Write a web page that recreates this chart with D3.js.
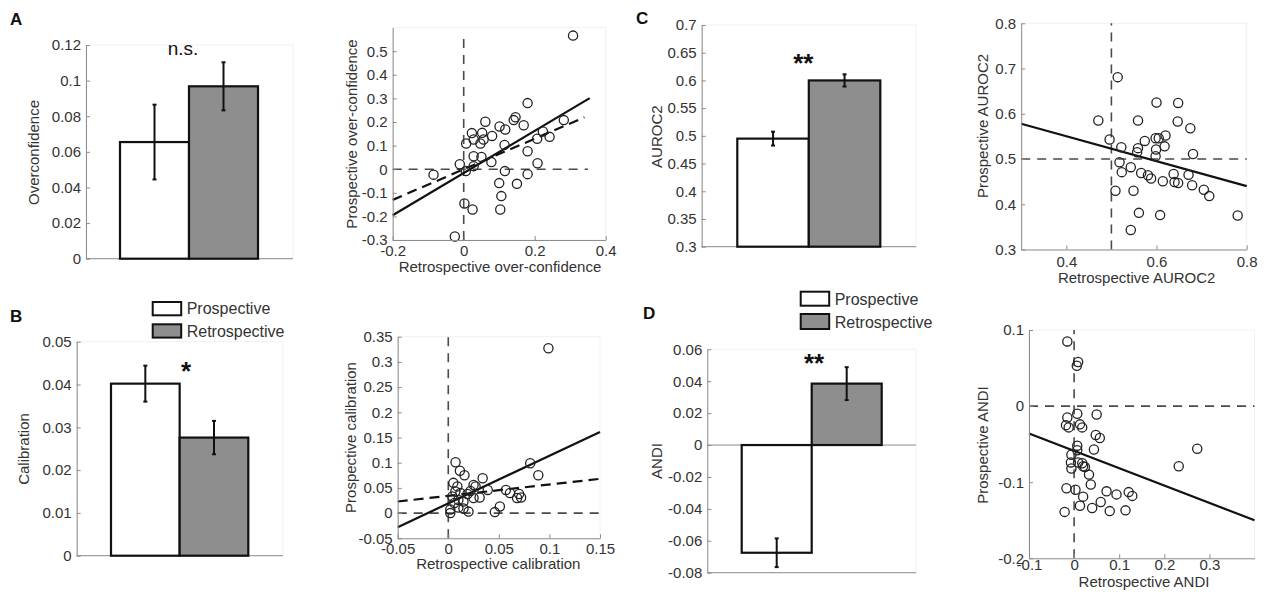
<!DOCTYPE html>
<html><head><meta charset="utf-8">
<script src="https://cdn.jsdelivr.net/npm/d3@7"></script>
<style>body{margin:0;background:#fff}</style>
</head><body><svg id="c" width="1265" height="597"></svg>
<script>
// ---------------- DATA ----------------
const barGroups = ["Prospective", "Retrospective"];

const overconfMean = [0.0655, 0.0968];
const overconfErr  = [0.021, 0.0135];
const overconfTicks = [0, 0.02, 0.04, 0.06, 0.08, 0.1, 0.12];

const calibMean = [0.0402, 0.0276];
const calibErr  = [0.0042, 0.0039];
const calibTicks = [0, 0.01, 0.02, 0.03, 0.04, 0.05];

const auroc2Mean = [0.495, 0.600];
const auroc2Err  = [0.0125, 0.011];
const auroc2Ticks = [0.3, 0.35, 0.4, 0.45, 0.5, 0.55, 0.6, 0.65, 0.7];

const andiMean = [-0.0675, 0.0385];
const andiErr  = [0.009, 0.0103];
const andiTicks = [-0.08, -0.06, -0.04, -0.02, 0, 0.02, 0.04, 0.06];

// scatter: [retrospective, prospective]
const overconfPoints = [[0.308,0.566],[0.180,0.280],[0.061,0.201],[0.146,0.220],[0.141,0.208],[0.169,0.186],[0.101,0.181],[0.117,0.168],[0.282,0.208],[0.023,0.153],[0.052,0.154],[0.080,0.141],[0.223,0.160],[0.242,0.137],[0.207,0.129],[0.007,0.109],[0.028,0.126],[0.047,0.109],[0.056,0.126],[0.115,0.103],[0.180,0.076],[0.028,0.055],[0.050,0.052],[0.078,0.030],[0.028,0.013],[-0.011,0.021],[0.006,-0.008],[-0.085,-0.023],[0.208,0.025],[0.116,-0.008],[0.180,-0.021],[0.150,-0.062],[0.100,-0.059],[0.106,-0.114],[0.002,-0.145],[0.025,-0.171],[0.103,-0.171],[-0.025,-0.285]];
const overconfFit = [[-0.2,-0.195],[0.355,0.301]];
const overconfFitDashed = [[-0.2,-0.13],[0.34,0.22]];
const overconfXTicks = [-0.2, 0, 0.2, 0.4];
const overconfYTicks = [-0.3, -0.2, -0.1, 0, 0.1, 0.2, 0.3, 0.4, 0.5];

const calibPoints = [[0.099,0.327],[0.0072,0.101],[0.0115,0.084],[0.016,0.075],[0.081,0.099],[0.089,0.075],[0.034,0.069],[0.005,0.060],[0.009,0.053],[0.025,0.056],[0.027,0.053],[0.039,0.046],[0.057,0.046],[0.061,0.040],[0.070,0.038],[0.072,0.031],[0.068,0.030],[0.031,0.031],[0.004,0.033],[0.012,0.040],[0.019,0.038],[0.022,0.044],[0.010,0.026],[0.006,0.020],[0.010,0.011],[0.015,0.009],[0.020,0.003],[0.002,0.000],[0.046,0.002],[0.051,0.013],[0.007,0.043],[0.015,0.023],[0.025,0.030],[0.002,0.007]];
const calibFit = [[-0.05,-0.028],[0.15,0.161]];
const calibFitDashed = [[-0.05,0.023],[0.15,0.068]];
const calibXTicks = [-0.05, 0, 0.05, 0.1, 0.15];
const calibYTicks = [-0.05, 0, 0.05, 0.1, 0.15, 0.2, 0.25, 0.3, 0.35];

const auroc2Points = [[0.514,0.681],[0.471,0.585],[0.559,0.585],[0.600,0.625],[0.648,0.624],[0.647,0.583],[0.675,0.568],[0.496,0.543],[0.574,0.540],[0.598,0.546],[0.605,0.546],[0.620,0.552],[0.522,0.526],[0.559,0.524],[0.618,0.528],[0.599,0.521],[0.557,0.515],[0.598,0.506],[0.681,0.511],[0.518,0.493],[0.543,0.482],[0.523,0.471],[0.566,0.469],[0.581,0.464],[0.588,0.457],[0.614,0.451],[0.638,0.467],[0.640,0.449],[0.648,0.447],[0.671,0.465],[0.679,0.442],[0.705,0.432],[0.717,0.418],[0.509,0.430],[0.549,0.430],[0.561,0.381],[0.608,0.376],[0.543,0.343],[0.780,0.375]];
const auroc2Fit = [[0.3,0.578],[0.8,0.44]];
const auroc2XTicks = [0.4, 0.6, 0.8];
const auroc2YTicks = [0.3, 0.4, 0.5, 0.6, 0.7, 0.8];

const andiPoints = [[-0.015,0.085],[0.009,0.058],[0.006,0.053],[0.007,-0.010],[0.050,-0.011],[-0.015,-0.015],[-0.018,-0.025],[-0.012,-0.028],[0.013,-0.024],[0.018,-0.028],[0.048,-0.038],[0.057,-0.042],[0.044,-0.057],[0.007,-0.052],[0.007,-0.058],[-0.006,-0.064],[-0.007,-0.074],[-0.006,-0.082],[0.009,-0.074],[0.018,-0.075],[0.020,-0.079],[0.024,-0.080],[0.033,-0.090],[0.037,-0.103],[-0.017,-0.108],[0.003,-0.110],[0.020,-0.119],[0.013,-0.131],[0.040,-0.134],[-0.021,-0.139],[0.059,-0.126],[0.072,-0.112],[0.079,-0.138],[0.094,-0.116],[0.114,-0.137],[0.121,-0.113],[0.129,-0.118],[0.232,-0.079],[0.273,-0.056]];
const andiFit = [[-0.1,-0.036],[0.4,-0.150]];
const andiXTicks = [-0.1, 0, 0.1, 0.2, 0.3];
const andiYTicks = [-0.2, -0.1, 0, 0.1];

// ---------------- DRAWING ----------------
const FONT = '"Liberation Sans", Arial, Helvetica, sans-serif';
const AXIS = "#8c8c8c", TXT = "#333";
const svg = d3.select("#c");
svg.append("rect").attr("width", 1265).attr("height", 597).attr("fill", "#fff");
const fmt = d => String(+d.toFixed(4));

function styleAxis(g) {
  g.attr("font-size", 15).attr("font-family", FONT);
  g.select(".domain").attr("stroke", AXIS).attr("stroke-width", 1);
  g.selectAll(".tick line").attr("stroke", AXIS);
  g.selectAll(".tick text").attr("fill", TXT);
}

function vLabel(x, y, text) {
  svg.append("text").attr("transform", `translate(${x},${y}) rotate(-90)`)
    .attr("text-anchor", "middle").attr("font-family", FONT).attr("font-size", 15)
    .attr("fill", TXT).text(text);
}
function hLabel(x, y, text) {
  svg.append("text").attr("x", x).attr("y", y).attr("text-anchor", "middle")
    .attr("font-family", FONT).attr("font-size", 15).attr("fill", TXT).text(text);
}

function barPanel(p) {
  const y = d3.scaleLinear().domain(p.yDomain).range([p.yBottom, p.yTop]);
  const x = d3.scaleBand().domain(barGroups).range(p.bars).paddingInner(0).paddingOuter(0);
  const g = svg.append("g");
  g.append("rect").attr("x", p.axisX).attr("y", p.yTop).attr("width", p.right - p.axisX)
    .attr("height", p.yBottom - p.yTop).attr("fill", "none").attr("stroke", "#f1f1f1");
  g.append("line").attr("x1", p.axisX).attr("x2", p.right).attr("y1", p.yBottom).attr("y2", p.yBottom)
    .attr("stroke", AXIS);
  if (p.yDomain[0] < 0) {
    g.append("line").attr("x1", p.axisX).attr("x2", p.right).attr("y1", y(0)).attr("y2", y(0))
      .attr("stroke", AXIS);
  }
  const base = p.base;
  g.selectAll("rect.bar").data(p.mean).join("rect").attr("class", "bar")
    .attr("x", (d, i) => x(barGroups[i]))
    .attr("width", x.bandwidth())
    .attr("y", d => Math.min(y(d), y(base)))
    .attr("height", d => Math.abs(y(d) - y(base)))
    .attr("fill", (d, i) => i === 0 ? "#ffffff" : "#8e8e8e")
    .attr("stroke", "#111").attr("stroke-width", 2.2);
  p.mean.forEach((m, i) => {
    const cx = x(barGroups[i]) + x.bandwidth() / 2;
    const e = p.err[i];
    g.append("line").attr("x1", cx).attr("x2", cx).attr("y1", y(m - e)).attr("y2", y(m + e))
      .attr("stroke", "#111").attr("stroke-width", 2);
    [m - e, m + e].forEach(v => g.append("line").attr("x1", cx - 2).attr("x2", cx + 2)
      .attr("y1", y(v)).attr("y2", y(v)).attr("stroke", "#111").attr("stroke-width", 2));
  });
  const ax = svg.append("g").attr("transform", `translate(${p.axisX},0)`)
    .call(d3.axisLeft(y).tickValues(p.ticks).tickFormat(fmt).tickSizeInner(-4).tickSizeOuter(0).tickPadding(5));
  styleAxis(ax);
  vLabel(p.ylab[0], p.ylab[1], p.ylabel);
  const s = p.sig;
  svg.append("text").attr("x", s.x).attr("y", s.y).attr("text-anchor", "middle")
    .attr("font-family", FONT).attr("font-size", s.size).attr("font-weight", s.bold ? "bold" : "normal")
    .attr("fill", "#111").text(s.text);
}

function scatterPanel(p) {
  const x = d3.scaleLinear().domain(p.xDomain).range([p.x0, p.x1]);
  const y = d3.scaleLinear().domain(p.yDomain).range([p.y0, p.y1]);
  const g = svg.append("g");
  g.append("rect").attr("x", p.x0).attr("y", p.y1).attr("width", p.x1 - p.x0).attr("height", p.y0 - p.y1)
    .attr("fill", "none").attr("stroke", "#f1f1f1");
  // reference lines
  g.append("line").attr("x1", x(p.refX)).attr("x2", x(p.refX)).attr("y1", y(p.yDomain[0])).attr("y2", y(p.refTop))
    .attr("stroke", "#4a4a4a").attr("stroke-width", 1.6).attr("stroke-dasharray", "9,7");
  g.append("line").attr("x1", x(p.xDomain[0])).attr("x2", x(p.refRight)).attr("y1", y(p.refY)).attr("y2", y(p.refY))
    .attr("stroke", "#4a4a4a").attr("stroke-width", 1.6).attr("stroke-dasharray", "9,7");
  const line = d3.line().x(d => x(d[0])).y(d => y(d[1]));
  if (p.fitDashed) g.append("path").attr("d", line(p.fitDashed)).attr("fill", "none")
    .attr("stroke", "#111").attr("stroke-width", 2.2).attr("stroke-dasharray", "10,6");
  g.append("path").attr("d", line(p.fit)).attr("fill", "none").attr("stroke", "#111").attr("stroke-width", 2.2);
  g.selectAll("circle").data(p.points).join("circle")
    .attr("cx", d => x(d[0])).attr("cy", d => y(d[1])).attr("r", 4.6)
    .attr("fill", "none").attr("stroke", "#222").attr("stroke-width", 1.3);
  const ay = svg.append("g").attr("transform", `translate(${p.x0},0)`)
    .call(d3.axisLeft(y).tickValues(p.yTicks).tickFormat(fmt).tickSizeInner(-4).tickSizeOuter(0).tickPadding(5));
  styleAxis(ay);
  const axx = svg.append("g").attr("transform", `translate(0,${p.y0})`)
    .call(d3.axisBottom(x).tickValues(p.xTicks).tickFormat(fmt).tickSizeInner(-4).tickSizeOuter(0).tickPadding(p.xPad));
  styleAxis(axx);
  vLabel(p.ylab[0], p.ylab[1], p.ylabel);
  hLabel(p.xlab[0], p.xlab[1], p.xlabel);
}

function legend(x, y1, y2, h1, h2) {
  [[y1, h1, "#ffffff", "Prospective"], [y2, h2, "#8e8e8e", "Retrospective"]].forEach(([yy, h, c, t]) => {
    svg.append("rect").attr("x", x).attr("y", yy).attr("width", 28.5).attr("height", h)
      .attr("fill", c).attr("stroke", "#111").attr("stroke-width", 2);
    svg.append("text").attr("x", x + 34).attr("y", yy + h - 1).attr("font-family", FONT)
      .attr("font-size", 16).attr("fill", TXT).text(t);
  });
}

function letter(x, y, t) {
  svg.append("text").attr("x", x).attr("y", y).attr("font-family", FONT).attr("font-size", 17)
    .attr("font-weight", "bold").attr("fill", "#111").text(t);
}

// Panel A
barPanel({mean: overconfMean, err: overconfErr, ticks: overconfTicks, yDomain: [0, 0.12], base: 0,
  yBottom: 258.7, yTop: 45, axisX: 86, right: 293, bars: [120, 258],
  ylabel: "Overconfidence", ylab: [39, 152.5],
  sig: {text: "n.s.", x: 183, y: 55, size: 19, bold: false}});
scatterPanel({points: overconfPoints, fit: overconfFit, fitDashed: overconfFitDashed,
  xDomain: [-0.2, 0.4], yDomain: [-0.3, 0.6], x0: 392.7, x1: 605.7, y0: 240, y1: 27.6, xPad: 5,
  xTicks: overconfXTicks, yTicks: overconfYTicks, refX: 0, refY: 0, refTop: 0.58, refRight: 0.35,
  ylabel: "Prospective over-confidence", ylab: [357, 134],
  xlabel: "Retrospective over-confidence", xlab: [500, 271.7]});

// Panel B
barPanel({mean: calibMean, err: calibErr, ticks: calibTicks, yDomain: [0, 0.05], base: 0,
  yBottom: 555.7, yTop: 341.7, axisX: 76.7, right: 283, bars: [111, 248.3],
  ylabel: "Calibration", ylab: [29, 449],
  sig: {text: "*", x: 186, y: 380, size: 26, bold: true}});
legend(152.7, 302, 324.3, 13.3, 13.3);
scatterPanel({points: calibPoints, fit: calibFit, fitDashed: calibFitDashed,
  xDomain: [-0.05, 0.15], yDomain: [-0.05, 0.35], x0: 397.7, x1: 600, y0: 538.3, y1: 336.7, xPad: 5,
  xTicks: calibXTicks, yTicks: calibYTicks, refX: 0, refY: 0, refTop: 0.35, refRight: 0.15,
  ylabel: "Prospective calibration", ylab: [355.5, 437.5],
  xlabel: "Retrospective calibration", xlab: [498.3, 569]});

// Panel C
barPanel({mean: auroc2Mean, err: auroc2Err, ticks: auroc2Ticks, yDomain: [0.3, 0.7], base: 0.3,
  yBottom: 246.7, yTop: 25, axisX: 701.7, right: 916, bars: [737.3, 880.3],
  ylabel: "AUROC2", ylab: [662, 136.7],
  sig: {text: "**", x: 803.3, y: 71.5, size: 26, bold: true}});
scatterPanel({points: auroc2Points, fit: auroc2Fit,
  xDomain: [0.3, 0.8], yDomain: [0.3, 0.8], x0: 1021.2, x1: 1246.7, y0: 249.5, y1: 23.3, xPad: 7,
  xTicks: auroc2XTicks, yTicks: auroc2YTicks, refX: 0.5, refY: 0.5, refTop: 0.8, refRight: 0.8,
  ylabel: "Prospective AUROC2", ylab: [988, 126],
  xlabel: "Retrospective AUROC2", xlab: [1136.7, 282.7]});

// Panel D
barPanel({mean: andiMean, err: andiErr, ticks: andiTicks, yDomain: [-0.08, 0.06], base: 0,
  yBottom: 572.7, yTop: 349.3, axisX: 707.3, right: 916, bars: [741.7, 881.7],
  ylabel: "ANDI", ylab: [661.5, 461],
  sig: {text: "**", x: 814, y: 372, size: 26, bold: true}});
legend(800.7, 291.7, 314, 14, 15);
scatterPanel({points: andiPoints, fit: andiFit,
  xDomain: [-0.1, 0.4], yDomain: [-0.2, 0.1], x0: 1029, x1: 1254.5, y0: 558.3, y1: 330, xPad: 1,
  xTicks: andiXTicks, yTicks: andiYTicks, refX: 0, refY: 0, refTop: 0.1, refRight: 0.4,
  ylabel: "Prospective ANDI", ylab: [987.5, 445],
  xlabel: "Retrospective ANDI", xlab: [1144, 586.5]});

letter(10, 25, "A");
letter(10, 322, "B");
letter(636, 24, "C");
letter(643, 319, "D");
</script>
</body></html>
